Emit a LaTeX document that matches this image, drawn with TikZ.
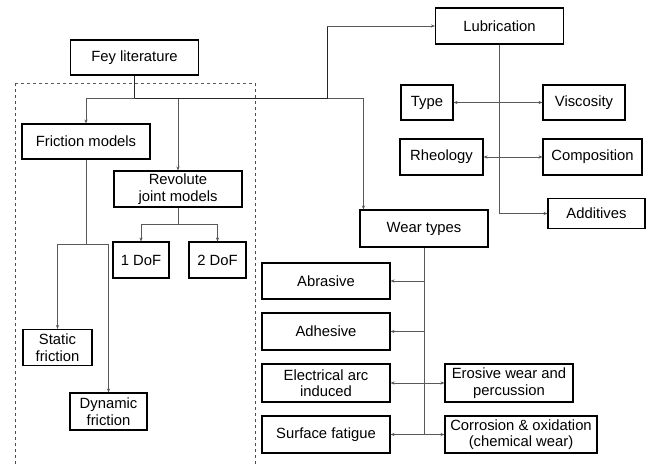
\documentclass[tikz,border=0pt]{standalone}
\usepackage{fontspec}
\setmainfont{Liberation Sans}
\usepackage{tikz}
\usetikzlibrary{arrows.meta,positioning}

\definecolor{dashblue}{RGB}{60,95,145}

\begin{document}
\begin{tikzpicture}[
  x=1pt, y=-1pt,
  >={Stealth[length=4pt,width=3.2pt]},
  every node/.style={font=\fontsize{14.8}{16.5}\selectfont, align=center, inner sep=1pt},
  box/.style={draw, line width=1.1pt, minimum width=128pt, minimum height=36pt},
  small/.style={draw, line width=1.1pt, minimum height=36pt},
  link/.style={line width=0.6pt, color=black!65},
  arrow/.style={->, line width=0.6pt, color=black!65}
]
\useasboundingbox (0,0) rectangle (648,464);

% group of friction and joint models
\draw[dashed, line width=0.9pt, dashblue] (15,83) -- (255,83);
\draw[dashed, line width=0.8pt, black!70] (15,83) -- (15,470);
\draw[dashed, line width=0.8pt, black!70] (255,83) -- (255,470);

\node[box, minimum height=35pt] (lit) at (134.5,57.5) {Fey literature};
\node[box] (lub) at (499.5,26) {Lubrication};
\node[box, minimum height=35pt] (fric) at (86,141.5) {Friction models};
\node[box] (rev) at (178,189) {Revolute\\joint models};
\node[small, minimum width=56pt] (dof1) at (141,260) {1 DoF};
\node[small, minimum width=57pt] (dof2) at (217.5,260) {2 DoF};
\node[small, minimum width=69pt] (stat) at (57.5,347.5) {Static\\friction};
\node[small, minimum width=77pt, minimum height=37pt] (dyn) at (108.5,411.5) {Dynamic\\friction};

\node[small, minimum width=52pt, minimum height=35pt] (type) at (427,102.5) {Type};
\node[small, minimum width=82pt, minimum height=35pt] (visc) at (584,102.5) {Viscosity};
\node[small, minimum width=83pt] (rheo) at (441.5,157) {Rheology};
\node[small, minimum width=99pt] (comp) at (592.5,157) {Composition};
\node[small, minimum width=97pt, minimum height=30pt] (add) at (596.5,213.5) {Additives};

\node[box, minimum height=37pt] (wear) at (424,228.5) {Wear types};
\node[box] (abr) at (326,281) {Abrasive};
\node[box, minimum height=37pt] (adh) at (326,331.5) {Adhesive};
\node[box, minimum height=38pt] (elec) at (326,383) {Electrical arc\\induced};
\node[box, minimum height=38pt] (eros) at (509,383) {Erosive wear and\\percussion};
\node[box, minimum height=37pt] (surf) at (326,434.5) {Surface fatigue};
\node[small, minimum width=152pt, minimum height=37pt] (corr) at (521,434.5) {Corrosion \& oxidation\\(chemical wear)};

\coordinate (bus) at (134.5,98);
\coordinate (lubturn) at (327,26);
\coordinate (wearin) at ([xshift=4pt]wear.north west);
\coordinate (revbus) at (178,224);
\coordinate (fricbus) at (86,244);

\draw[link, black!85, line width=0.8pt] (lit) -- (bus);
\draw[arrow] (bus) -| (fric);
\draw[arrow] (bus) -| (rev);
\draw[arrow] (bus) -| (wearin);
\draw[link, black!85, line width=0.8pt] (bus) -| (lubturn);
\draw[arrow] (lubturn) -- (lub);

\draw[link] (rev) -- (revbus);
\draw[arrow] (revbus) -| (dof1);
\draw[arrow] (revbus) -| (dof2);

\draw[link] (fric) -- (fricbus);
\draw[arrow] (fricbus) -| (stat);
\draw[arrow] (fricbus) -| (dyn);

\draw[arrow] (lub) |- (add);
\draw[arrow, <->] (type) -- (visc);
\draw[arrow, <->] (rheo) -- (comp);

\draw[link] (wear) -- (wear.south |- surf);
\draw[arrow] (wear.south |- abr) -- (abr);
\draw[arrow] (wear.south |- adh) -- (adh);
\draw[arrow, <->] (elec) -- (eros);
\draw[arrow, <->] (surf) -- (corr);
\end{tikzpicture}
\end{document}
